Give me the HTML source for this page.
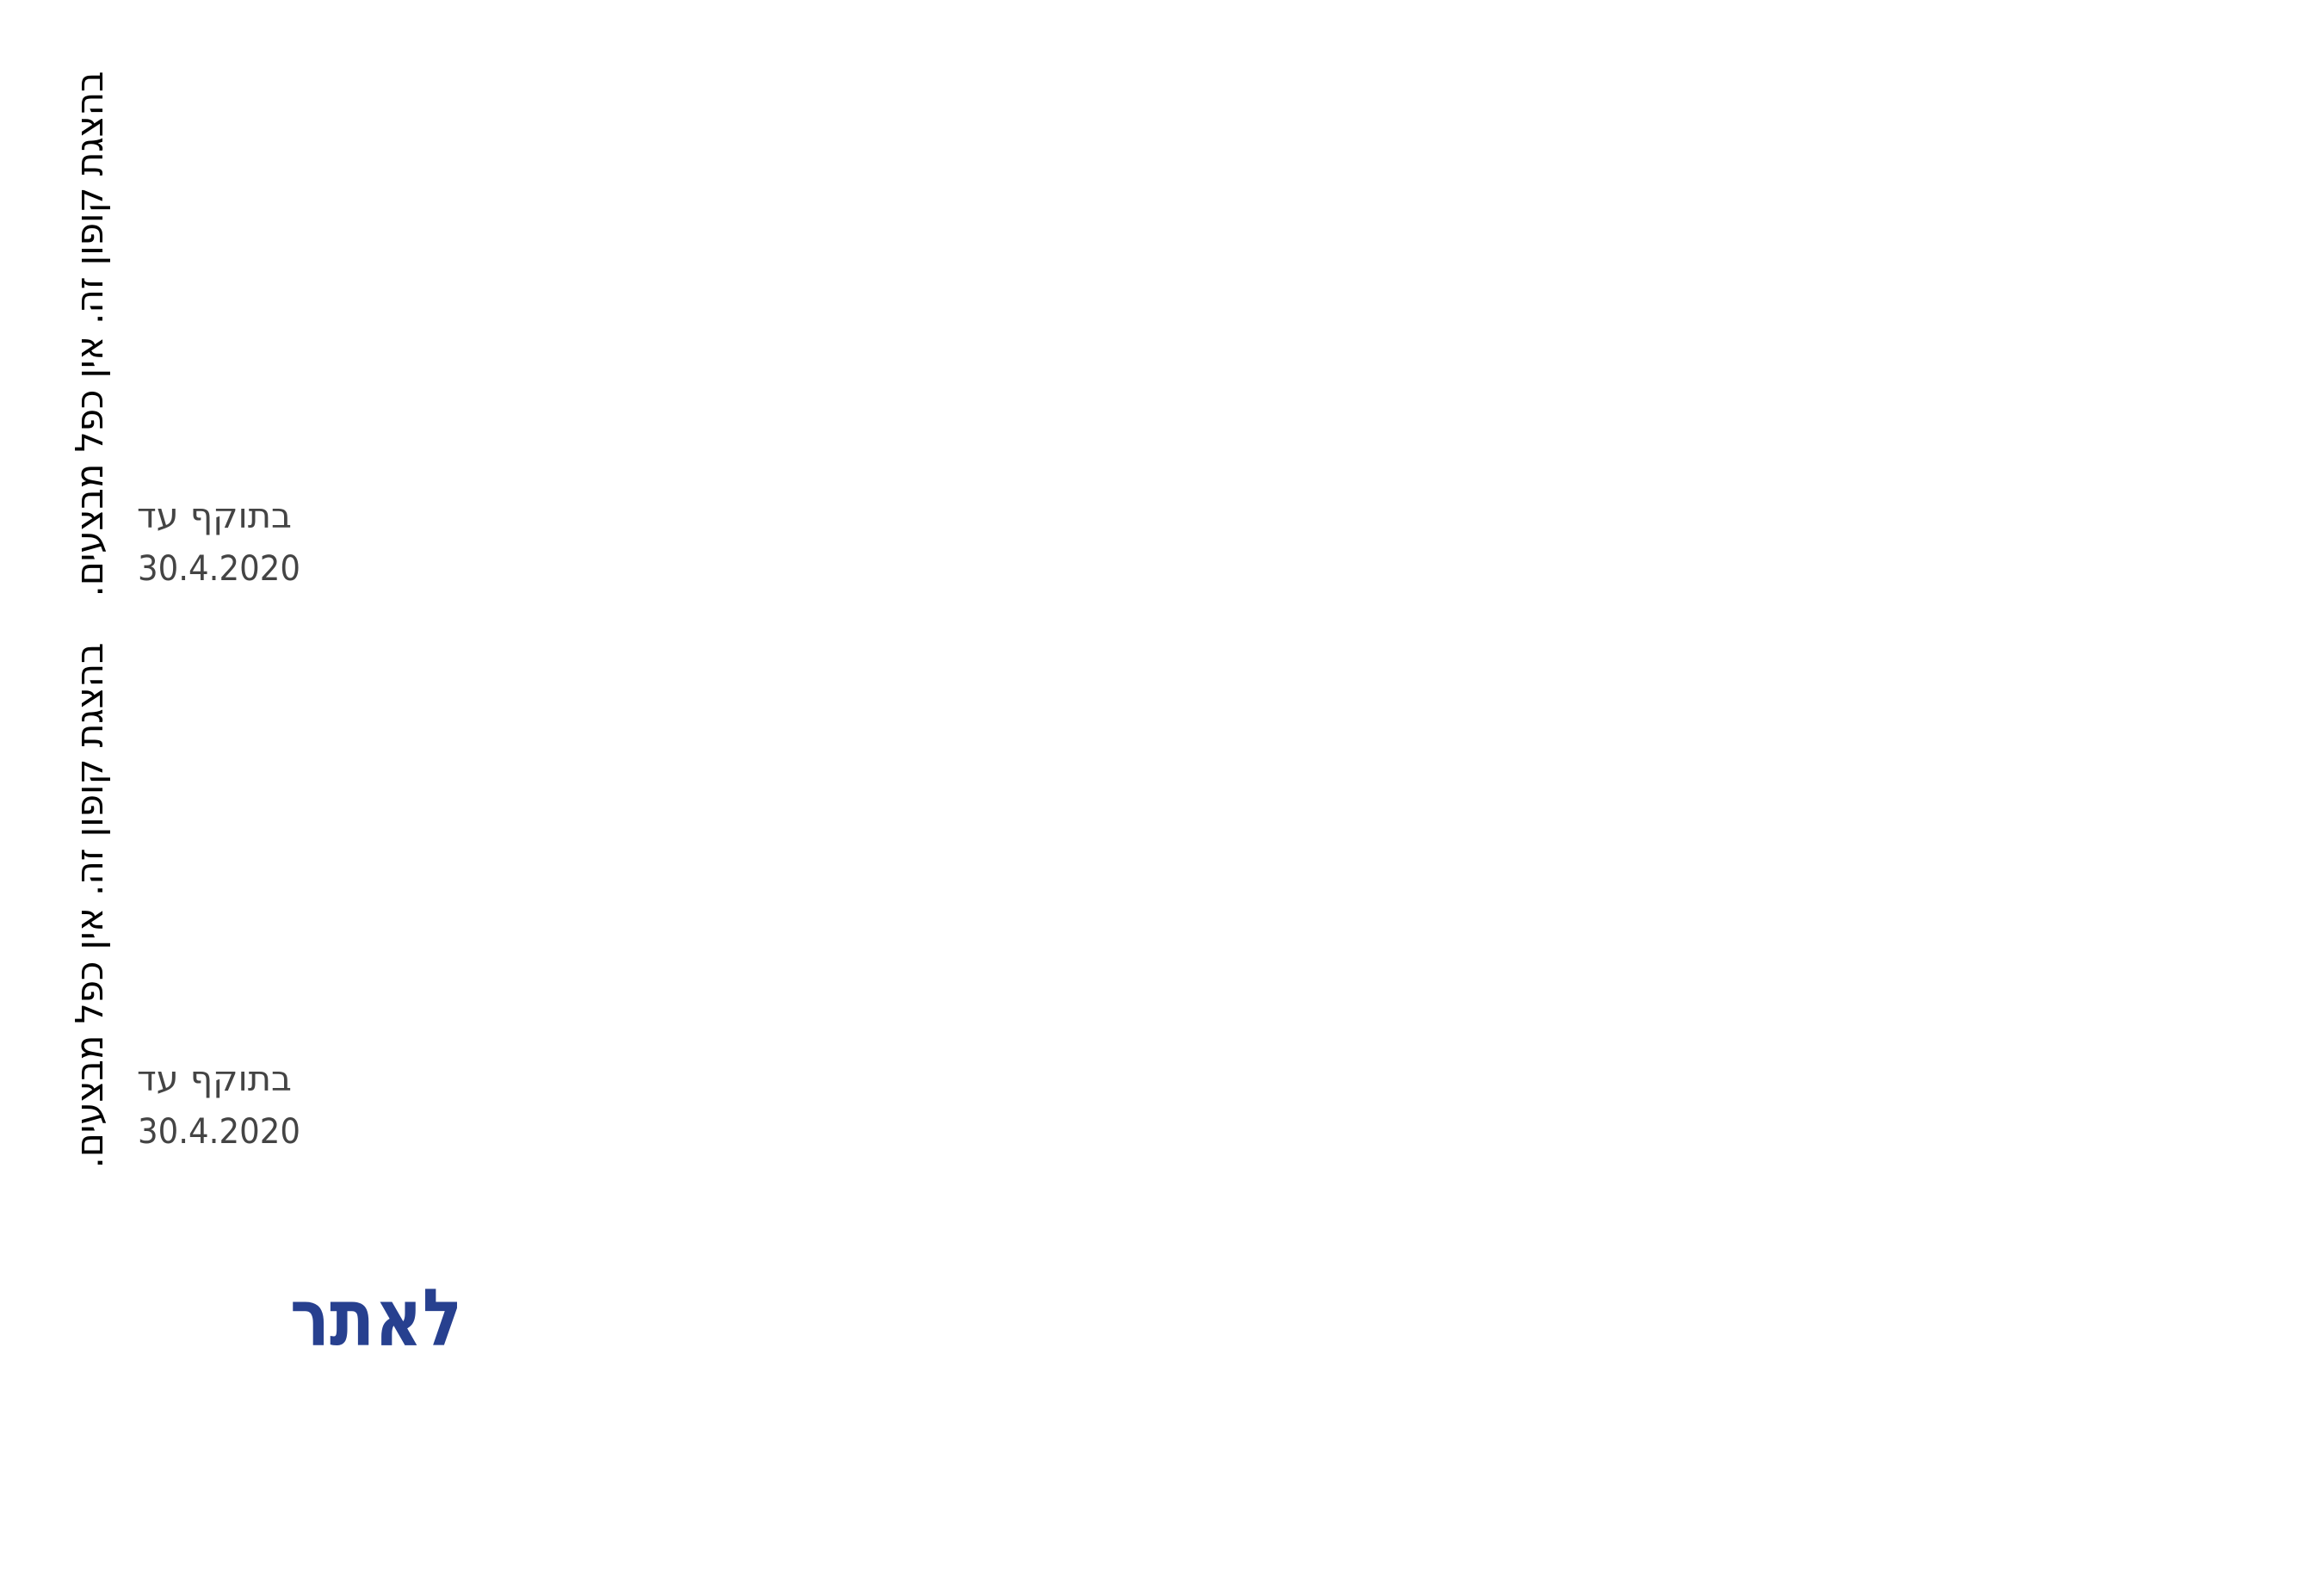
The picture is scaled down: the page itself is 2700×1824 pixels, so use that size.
<!DOCTYPE html>
<html><head><meta charset="utf-8"><style>
html,body{margin:0;padding:0;background:#fff;width:2700px;height:1824px;overflow:hidden}
svg{display:block}
</style></head><body>
<svg width="2700" height="1824" viewBox="0 0 2700 1824" xmlns="http://www.w3.org/2000/svg">
<rect width="2700" height="1824" fill="#fff"/>
<g font-family="'DejaVu Sans Condensed','DejaVu Sans','Liberation Sans',sans-serif" fill="#000" font-size="44">
<text transform="translate(119,388) rotate(-90)" text-anchor="middle" textLength="611" lengthAdjust="spacingAndGlyphs" direction="rtl">בהצגת קופון זה. אין כפל מבצעים.</text>
<text transform="translate(119,1052) rotate(-90)" text-anchor="middle" textLength="611" lengthAdjust="spacingAndGlyphs" direction="rtl">בהצגת קופון זה. אין כפל מבצעים.</text>
</g>
<g font-family="'DejaVu Sans','Liberation Sans',sans-serif" fill="#444" font-size="40">
<text x="249" y="613" text-anchor="middle" textLength="180" lengthAdjust="spacingAndGlyphs" direction="rtl">בתוקף עד</text>
<text x="160" y="674" textLength="189" lengthAdjust="spacingAndGlyphs">30.4.2020</text>
<text x="249" y="1267" text-anchor="middle" textLength="180" lengthAdjust="spacingAndGlyphs" direction="rtl">בתוקף עד</text>
<text x="160" y="1328" textLength="189" lengthAdjust="spacingAndGlyphs">30.4.2020</text>
</g>
<text x="437" y="1563" text-anchor="middle" font-family="'DejaVu Sans','Liberation Sans',sans-serif" font-weight="bold" font-size="92" fill="#27408f" textLength="200" lengthAdjust="spacingAndGlyphs" direction="rtl">לאתר</text>
</svg>
</body></html>
